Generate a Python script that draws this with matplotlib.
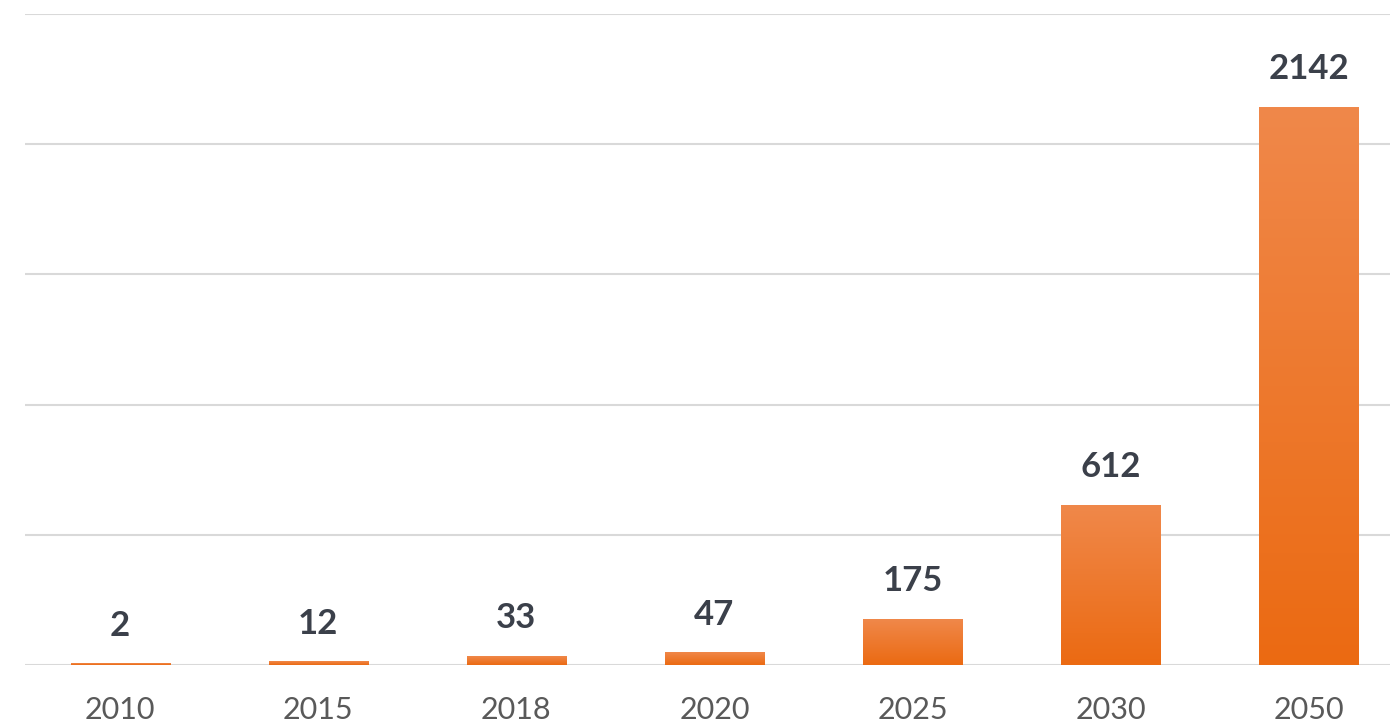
import numpy as np
import matplotlib
matplotlib.use('Agg')
import matplotlib.pyplot as plt
from matplotlib.colors import LinearSegmentedColormap

years = ['2010', '2015', '2018', '2020', '2025', '2030', '2050']
values = [2, 12, 33, 47, 175, 612, 2142]

plt.rcParams['font.family'] = ['Lato', 'DejaVu Sans']

fig = plt.figure(figsize=(13.9, 7.26), dpi=100)
ax = fig.add_axes([0.018, 0.084, 0.982, 0.897])

x = np.arange(len(years))
bars = ax.bar(x, values, width=0.5, color='none', zorder=3)

# vertical gradient in each bar, lighter at top
cmap = LinearSegmentedColormap.from_list('org', ['#EB6A12', '#F0884A'])
grad = np.linspace(0, 1, 256).reshape(-1, 1)
for b in bars:
    bx, by = b.get_x(), b.get_y()
    w, h = b.get_width(), max(b.get_height(), 4)
    ax.imshow(grad, cmap=cmap, origin='lower', aspect='auto',
              extent=[bx, bx + w, by, by + h], zorder=3)

for xi, v in zip(x, values):
    ax.annotate(str(v), (xi, v), xytext=(0, 16), textcoords='offset points',
                ha='center', va='bottom', fontsize=25, fontweight='bold',
                color='#3B404A', zorder=4)

ax.set_xlim(-0.48, 6.41)
ax.set_ylim(0, 2500)
ax.set_yticks(np.arange(0, 2501, 500))
ax.yaxis.grid(True, color='#D9D9D9', linewidth=1.5, zorder=0)
ax.set_yticklabels([])
ax.tick_params(axis='y', length=0)
ax.set_xticks(x)
ax.set_xticklabels(years, fontsize=22, color='#595959')
ax.tick_params(axis='x', length=0, pad=22)
for s in ax.spines.values():
    s.set_visible(False)

fig.savefig('out.png', dpi=100)
